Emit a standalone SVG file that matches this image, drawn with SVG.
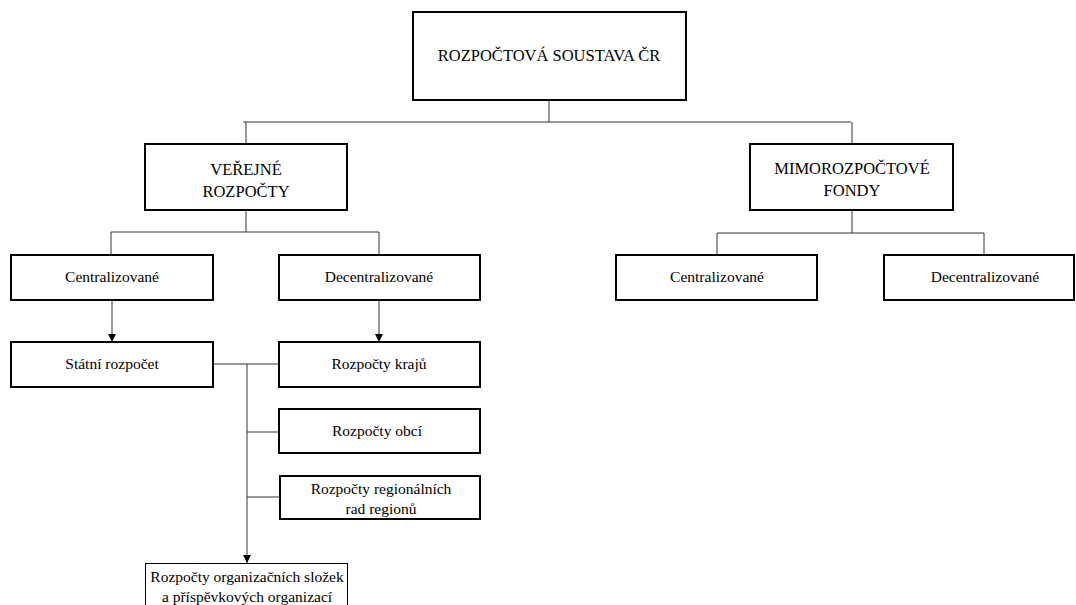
<svg xmlns="http://www.w3.org/2000/svg" width="1076" height="605" viewBox="0 0 1076 605">
<defs>
<style>
.box{fill:#fff;stroke:#000;stroke-width:2}
.thin{fill:#fff;stroke:#000;stroke-width:1}
text{font-family:'Liberation Serif','Times New Roman',serif;font-size:15.5px;fill:#000;text-anchor:middle}
.b{font-size:16.5px}
.c{fill:none;stroke:#333;stroke-width:1}
</style>
<marker id="arr" viewBox="0 0 10 10" refX="10" refY="5" markerWidth="8" markerHeight="8" markerUnits="userSpaceOnUse" orient="auto">
<path d="M0,0 L10,5 L0,10 z" fill="#000"/>
</marker>
</defs>
<g id="connectors">
<path class="c" d="M549,100 V122 M243,122 H851 M246,122 V144 M852,122 V144"/>
<path class="c" d="M246,210 V232 M111,232 H379 M111,232 V255 M379,232 V255"/>
<path class="c" d="M852,210 V233 M717,233 H984 M717,233 V255 M984,233 V255"/>
<path class="c" d="M112,300 V342" marker-end="url(#arr)"/>
<path class="c" d="M379,300 V342" marker-end="url(#arr)"/>
<path class="c" d="M213,364 H279 M247,432 H279 M247,497 H279"/>
<path class="c" d="M247,364 V563" marker-end="url(#arr)"/>
</g>
<g id="n-root"><rect class="box" x="413" y="12" width="273" height="88"/><text class="b" x="549" y="61">ROZPOČTOVÁ SOUSTAVA ČR</text></g>
<g id="n-verejne"><rect class="box" x="145" y="144" width="202" height="66"/><text class="b" x="246" y="175">VEŘEJNÉ</text><text class="b" x="246" y="197">ROZPOČTY</text></g>
<g id="n-mimo"><rect class="box" x="750" y="144" width="203" height="66"/><text class="b" x="852" y="174">MIMOROZPOČTOVÉ</text><text class="b" x="852" y="196">FONDY</text></g>
<g id="n-vc"><rect class="box" x="11" y="255" width="202" height="45"/><text x="112" y="282">Centralizované</text></g>
<g id="n-vd"><rect class="box" x="279" y="255" width="201" height="45"/><text x="379" y="282">Decentralizované</text></g>
<g id="n-mc"><rect class="box" x="616" y="255" width="201" height="45"/><text x="717" y="282">Centralizované</text></g>
<g id="n-md"><rect class="box" x="884" y="255" width="190" height="45"/><text x="985" y="282">Decentralizované</text></g>
<g id="n-statni"><rect class="box" x="11" y="342" width="202" height="45"/><text x="112" y="369">Státní rozpočet</text></g>
<g id="n-kraje"><rect class="box" x="279" y="342" width="201" height="45"/><text x="379" y="369">Rozpočty krajů</text></g>
<g id="n-obce"><rect class="box" x="279" y="409" width="201" height="44"/><text x="377" y="436">Rozpočty obcí</text></g>
<g id="n-region"><rect class="box" x="280" y="476" width="200" height="43"/><text x="381" y="494">Rozpočty regionálních</text><text x="381" y="514">rad regionů</text></g>
<g id="n-org"><rect class="thin" x="145.5" y="563.5" width="202" height="50"/><text x="247" y="582">Rozpočty organizačních složek</text><text x="247" y="602">a příspěvkových organizací</text></g>
</svg>
